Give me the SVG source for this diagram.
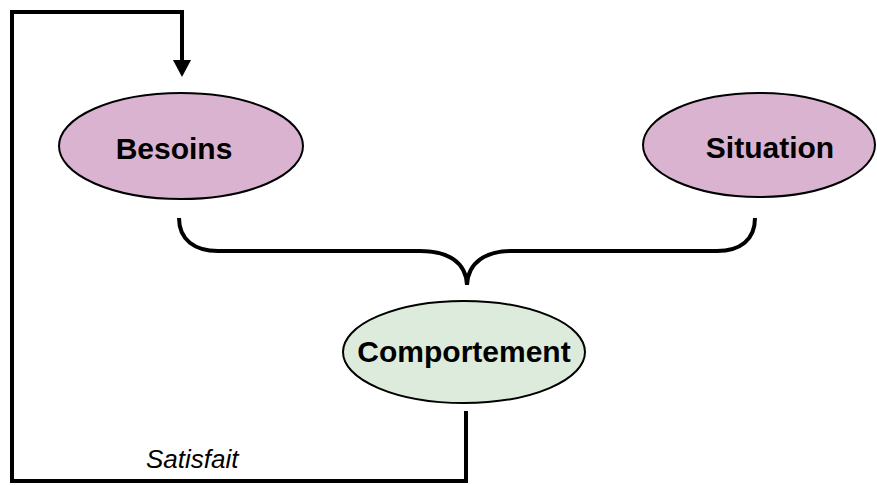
<svg xmlns="http://www.w3.org/2000/svg" width="877" height="485" viewBox="0 0 877 485">
  <style>
    .node { stroke: #000; stroke-width: 2; }
    .pink { fill: #dab3d0; }
    .green { fill: #dcebdb; }
    .label { font-family: "Liberation Sans", Arial, sans-serif; font-weight: bold; font-size: 30px; fill: #000; text-anchor: middle; }
    .wire { fill: none; stroke: #000; stroke-width: 4; stroke-linejoin: miter; }
    .note { font-family: "Liberation Sans", Arial, sans-serif; font-style: italic; font-size: 26px; fill: #000; }
  </style>
  <rect width="877" height="485" fill="#fff"/>

  <g id="connectors">
    <!-- feedback loop from Comportement back to Besoins -->
    <polyline class="wire" points="466,411 466,481 12,481 12,12 182,12 182,62"/>
    <path d="M173,60 L191,60 L182,77 Z" fill="#000"/>
    <!-- brace joining Besoins and Situation into Comportement -->
    <path class="wire" d="M179,218 C179,240 195,251 218,251 L420,251 C448,251 466,262 467,285 C468,262 486,251 512,251 L717,251 C740,251 755,240 755,218"/>
  </g>

  <g id="besoins">
    <ellipse class="node pink" cx="181" cy="146" rx="122" ry="53"/>
    <text class="label" x="174" y="159">Besoins</text>
  </g>

  <g id="situation">
    <ellipse class="node pink" cx="759" cy="145" rx="116" ry="52"/>
    <text class="label" x="770" y="158">Situation</text>
  </g>

  <g id="comportement">
    <ellipse class="node green" cx="464" cy="352" rx="121" ry="51"/>
    <text class="label" x="464" y="362">Comportement</text>
  </g>

  <g id="satisfait">
    <text class="note" x="146" y="468">Satisfait</text>
  </g>
</svg>
